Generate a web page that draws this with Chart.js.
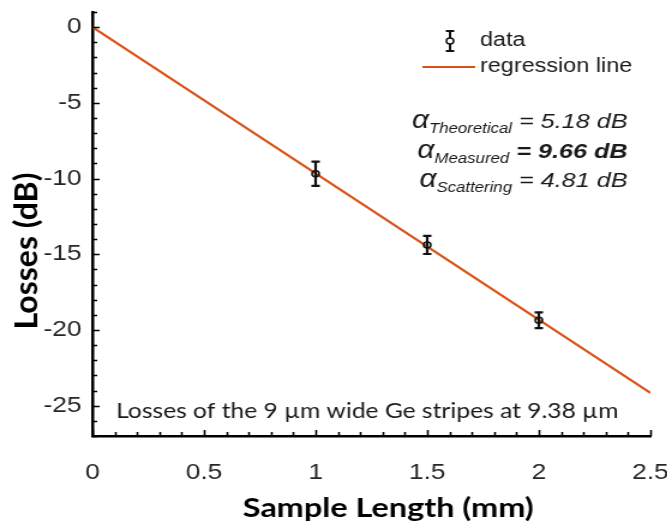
<!DOCTYPE html>
<html>
<head>
<meta charset="utf-8">
<script src="https://cdn.jsdelivr.net/npm/chart.js@4.4.1/dist/chart.umd.min.js"></script>
<style>
  html, body { margin: 0; padding: 0; background: #fff; }
  /* the figure is drawn narrow and then widened, like the exported plot */
  #wrap { width: 556px; height: 530px; transform: scaleX(1.2); transform-origin: 0 0; }
</style>
</head>
<body>
<div id="wrap"><canvas id="lossChart" width="556" height="530"></canvas></div>
<script>
// measured losses vs sample length
const lengths = [1, 1.5, 2];
const losses = [-9.68, -14.38, -19.36];
const lossErrors = [0.8, 0.6, 0.52];

// regression line, slope = -9.66 dB/mm
const fitLengths = [0, 2.5];
const fitLosses = [0, -24.15];

const xTickValues = [0, 0.5, 1, 1.5, 2, 2.5];
const yTickValues = [0, -5, -10, -15, -20, -25];

const lineColor = '#D95319';
const tickFont = { family: '"Liberation Sans", Arial, sans-serif', size: 22 };

// error bars drawn through the chart scales
const errorBars = {
  id: 'errorBars',
  afterDatasetsDraw(chart) {
    const {ctx, scales: {x, y}} = chart;
    ctx.save();
    ctx.strokeStyle = '#111';
    ctx.lineWidth = 2.2;
    lengths.forEach((len, i) => {
      const px = x.getPixelForValue(len);
      const top = y.getPixelForValue(losses[i] + lossErrors[i]);
      const bot = y.getPixelForValue(losses[i] - lossErrors[i]);
      ctx.beginPath();
      ctx.moveTo(px, top); ctx.lineTo(px, bot);
      ctx.moveTo(px - 3.5, top); ctx.lineTo(px + 3.5, top);
      ctx.moveTo(px - 3.5, bot); ctx.lineTo(px + 3.5, bot);
      ctx.stroke();
    });
    ctx.restore();
  }
};

// inward major and minor tick marks
const axisTicks = {
  id: 'axisTicks',
  afterDraw(chart) {
    const {ctx, chartArea: area, scales: {x, y}} = chart;
    ctx.save();
    ctx.strokeStyle = '#000';
    ctx.lineWidth = 1.6;
    ctx.beginPath();
    for (let v = -27; v <= 1; v++) {
      const py = Math.round(y.getPixelForValue(v)) + 0.5;
      const len = v % 5 === 0 ? 6 : 4;
      ctx.moveTo(area.left, py); ctx.lineTo(area.left + len, py);
    }
    for (let i = 0; i <= 25; i++) {
      const px = Math.round(x.getPixelForValue(i / 10)) + 0.5;
      const len = i % 5 === 0 ? 6 : 4;
      ctx.moveTo(px, area.bottom); ctx.lineTo(px, area.bottom - len);
    }
    ctx.stroke();
    ctx.restore();
  }
};

function alphaLine(c, name, value, baseline, bold) {
  const right = 523;
  c.textBaseline = 'alphabetic';
  c.textAlign = 'left';
  c.font = 'italic ' + (bold ? 'bold ' : '') + '21px "Liberation Sans", Arial';
  const wVal = c.measureText(value).width;
  c.fillText(value, right - wVal, baseline);
  c.font = 'italic 14px "Liberation Sans", Arial';
  const wSub = c.measureText(name).width;
  c.fillText(name, right - wVal - wSub, baseline + 5);
  c.font = 'italic 25px "Liberation Sans", Arial';
  const wA = c.measureText('α').width;
  c.fillText('α', right - wVal - wSub - wA, baseline);
}

// legend, annotations and axis titles
const textLayer = {
  id: 'textLayer',
  afterDraw(chart) {
    const c = chart.ctx;
    c.save();
    c.fillStyle = '#1a1a1a';

    // legend: data
    c.strokeStyle = '#111';
    c.lineWidth = 2;
    c.beginPath();
    c.moveTo(375, 31); c.lineTo(375, 51);
    c.moveTo(371.5, 31); c.lineTo(378.5, 31);
    c.moveTo(371.5, 51); c.lineTo(378.5, 51);
    c.stroke();
    c.fillStyle = '#fff';
    c.lineWidth = 1.5;
    c.beginPath(); c.arc(375, 41, 3, 0, Math.PI * 2); c.fill(); c.stroke();
    c.fillStyle = '#1a1a1a';
    c.font = '19.5px "Liberation Sans", Arial';
    c.textBaseline = 'middle';
    c.fillText('data', 400, 41);

    // legend: regression line
    c.strokeStyle = lineColor;
    c.lineWidth = 2;
    c.beginPath(); c.moveTo(352, 67); c.lineTo(396, 67); c.stroke();
    c.fillText('regression line', 400, 67);

    alphaLine(c, 'Theoretical', ' = 5.18 dB', 128, false);
    alphaLine(c, 'Measured', ' = 9.66 dB', 157.5, true);
    alphaLine(c, 'Scattering', ' = 4.81 dB', 187, false);

    c.textAlign = 'center';
    c.textBaseline = 'alphabetic';
    c.font = '20.5px Lato, "Open Sans", sans-serif';
    c.fillText('Losses of the 9 µm wide Ge stripes at 9.38 µm', 306, 418);

    c.fillStyle = '#000';
    c.font = 'bold 27px Lato, "Open Sans", sans-serif';
    c.fillText('Sample Length (mm)', 323.5, 517);

    c.translate(31, 251);
    c.rotate(-Math.PI / 2);
    c.scale(1, 0.83);
    c.font = 'bold 32px Lato, "Open Sans", sans-serif';
    c.fillText('Losses (dB)', 0, 0);
    c.restore();
  }
};

const ctx = document.getElementById('lossChart').getContext('2d');
new Chart(ctx, {
  type: 'scatter',
  data: {
    datasets: [
      {
        label: 'regression line',
        type: 'line',
        data: fitLengths.map((x, i) => ({x: x, y: fitLosses[i]})),
        borderColor: lineColor,
        borderWidth: 2.2,
        pointRadius: 0,
        fill: false,
        order: 2
      },
      {
        label: 'data',
        data: lengths.map((x, i) => ({x: x, y: losses[i]})),
        pointStyle: 'circle',
        pointRadius: 3,
        borderColor: '#111',
        borderWidth: 1.5,
        backgroundColor: 'rgba(0,0,0,0)',
        order: 1
      }
    ]
  },
  options: {
    responsive: false,
    animation: false,
    layout: { padding: { top: 12, right: 14, left: 0, bottom: 0 } },
    plugins: { legend: { display: false }, tooltip: { enabled: false } },
    scales: {
      x: {
        type: 'linear', min: 0, max: 2.5,
        grid: { display: false, drawTicks: false },
        border: { display: true, color: '#000', width: 2.5 },
        ticks: { padding: 24, color: '#262626', font: tickFont, callback: v => String(v) },
        afterBuildTicks: s => { s.ticks = xTickValues.map(v => ({value: v})); },
        afterFit: s => { s.height = 94; s.paddingLeft = 0; s.paddingRight = 0; }
      },
      y: {
        type: 'linear', min: -27, max: 1,
        grid: { display: false, drawTicks: false },
        border: { display: true, color: '#000', width: 2.5 },
        ticks: { padding: 9, color: '#262626', font: tickFont, callback: v => String(v) },
        afterBuildTicks: s => { s.ticks = yTickValues.map(v => ({value: v})); },
        afterFit: s => { s.width = 77; s.paddingTop = 0; s.paddingBottom = 0; }
      }
    }
  },
  plugins: [errorBars, axisTicks, textLayer]
});
</script>
</body>
</html>
